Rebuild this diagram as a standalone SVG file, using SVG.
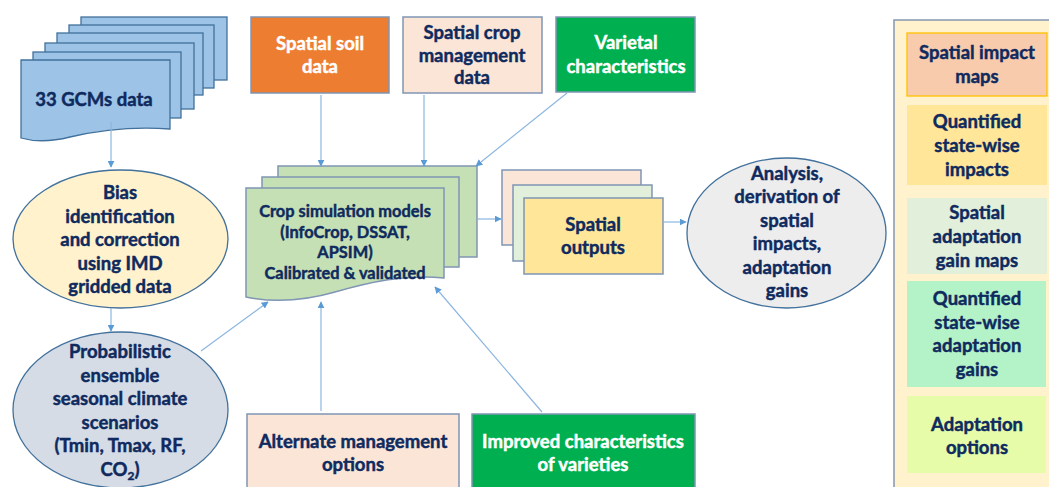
<svg xmlns="http://www.w3.org/2000/svg" width="1049" height="487" viewBox="0 0 1049 487">
  <defs>
    <marker id="arrow" viewBox="0 0 10 10" refX="9" refY="5" markerWidth="7" markerHeight="7" markerUnits="userSpaceOnUse" orient="auto">
      <path d="M0,0 L10,5 L0,10 Z" fill="#5B9BD5"/>
    </marker>
  </defs>
  <style>
    text { font-family: Lato, "Liberation Sans", sans-serif; font-weight: bold; font-size: 18.5px; fill: #0E2A5E; stroke: #0E2A5E; stroke-width: 0.45; text-anchor: middle; }
    .w { fill: #FFFFFF; stroke: #FFFFFF; }
    .sm { font-size: 16.4px; }
    .box { stroke: #7F95B4; stroke-width: 1.5; }
    .sheet { fill: #9DC3E6; stroke: #41719C; stroke-width: 1.3; }
    .ell { stroke: #41719C; stroke-width: 1.3; }
    .con { fill: none; stroke: #8DB6E0; stroke-width: 1.2; marker-end: url(#arrow); }
  </style>

  <rect width="1049" height="487" fill="#FFFFFF"/>

  <!-- stacked climate model sheets -->
  <g id="gcms">
    <rect class="sheet" x="81" y="17" width="146" height="63"/>
    <rect class="sheet" x="69" y="25" width="145" height="63"/>
    <rect class="sheet" x="57" y="33" width="146" height="62"/>
    <rect class="sheet" x="45" y="43" width="149" height="66"/>
    <rect class="sheet" x="33" y="52" width="148" height="66"/>
    <path class="sheet" d="M21,60 H170 V129 C130,126 100,130 70,137 C50,142 35,142 21,138 Z"/>
    <text x="94" y="106">33 GCMs data</text>
  </g>

  <g id="bias">
    <ellipse class="ell" cx="120.5" cy="239" rx="107.5" ry="69" fill="#FFF2CC"/>
    <text x="120" y="199">Bias</text>
    <text x="120" y="222.5">identification</text>
    <text x="120" y="246">and correction</text>
    <text x="120" y="269.5">using IMD</text>
    <text x="120" y="293">gridded data</text>
  </g>

  <g id="scenarios">
    <ellipse class="ell" cx="120.5" cy="410" rx="107.5" ry="78" fill="#D6DCE5"/>
    <text x="120" y="358">Probabilistic</text>
    <text x="120" y="381.6">ensemble</text>
    <text x="120" y="405.2">seasonal climate</text>
    <text x="120" y="428.8">scenarios</text>
    <text x="120" y="452.4">(Tmin, Tmax, RF,</text>
    <text x="120" y="476">CO<tspan font-size="12" dy="4">2</tspan><tspan dy="-4">)</tspan></text>
  </g>

  <g id="soil">
    <rect class="box" x="251" y="17" width="138" height="76" fill="#ED7D31"/>
    <text class="w" x="320" y="50">Spatial soil</text>
    <text class="w" x="320" y="73">data</text>
  </g>

  <g id="crop-management">
    <rect class="box" x="403" y="17" width="139" height="76" fill="#FBE5D6"/>
    <text x="472" y="39">Spatial crop</text>
    <text x="472" y="61.5">management</text>
    <text x="472" y="84">data</text>
  </g>

  <g id="varietal">
    <rect class="box" x="556" y="17" width="139" height="75" fill="#00B050"/>
    <text class="w" x="626" y="49">Varietal</text>
    <text class="w" x="626" y="73">characteristics</text>
  </g>

  <!-- stacked crop model sheets -->
  <g id="crop-models">
    <rect class="box" x="278" y="166" width="199" height="91" fill="#C5E0B4"/>
    <rect class="box" x="262" y="177" width="197" height="90" fill="#C5E0B4"/>
    <path class="box" d="M246,188 H444 V278 C405,274 370,282 335,292 C300,302 270,302 246,297 Z" fill="#C5E0B4"/>
    <text class="sm" x="345" y="217">Crop simulation models</text>
    <text class="sm" x="345" y="237.7">(InfoCrop, DSSAT,</text>
    <text class="sm" x="345" y="258.3">APSIM)</text>
    <text class="sm" x="345" y="279">Calibrated &amp; validated</text>
  </g>

  <g id="spatial-outputs">
    <rect class="box" x="502" y="170" width="139" height="75" fill="#FBE5D6"/>
    <rect class="box" x="513" y="185" width="139" height="76" fill="#E2EFDA"/>
    <rect class="box" x="524" y="198" width="139" height="76" fill="#FFE699"/>
    <text x="593" y="231">Spatial</text>
    <text x="593" y="254">outputs</text>
  </g>

  <g id="analysis">
    <ellipse class="ell" cx="786.5" cy="233" rx="99.5" ry="75" fill="#EDEDED"/>
    <text x="787" y="180">Analysis,</text>
    <text x="787" y="203.4">derivation of</text>
    <text x="787" y="226.8">spatial</text>
    <text x="787" y="250.2">impacts,</text>
    <text x="787" y="273.6">adaptation</text>
    <text x="787" y="297">gains</text>
  </g>

  <g id="alternate-management">
    <rect class="box" x="247" y="414" width="212" height="80" fill="#FBE5D6"/>
    <text x="353" y="448">Alternate management</text>
    <text x="353" y="471">options</text>
  </g>

  <g id="improved-varieties">
    <rect class="box" x="472" y="414" width="223" height="80" fill="#00B050"/>
    <text class="w" x="583" y="448">Improved characteristics</text>
    <text class="w" x="583" y="471">of varieties</text>
  </g>

  <!-- outputs panel -->
  <g id="outputs-panel">
    <rect x="894" y="20" width="170" height="480" fill="#FFF2CC" stroke="#8497B0" stroke-width="1.5"/>
  </g>
  <g id="impact-maps">
    <rect x="907" y="33" width="140" height="63" fill="#F8CBAD" stroke="#FFC000" stroke-width="1.3"/>
    <text x="977" y="59">Spatial impact</text>
    <text x="977" y="83">maps</text>
  </g>
  <g id="state-impacts">
    <rect x="907" y="105" width="140" height="80" fill="#FFE699"/>
    <text x="977" y="128">Quantified</text>
    <text x="977" y="152">state-wise</text>
    <text x="977" y="176">impacts</text>
  </g>
  <g id="gain-maps">
    <rect x="907" y="198" width="140" height="76" fill="#E2EFDA"/>
    <text x="977" y="219">Spatial</text>
    <text x="977" y="243">adaptation</text>
    <text x="977" y="267">gain maps</text>
  </g>
  <g id="state-gains">
    <rect x="907" y="281" width="139" height="106" fill="#B4F3C8"/>
    <text x="977" y="305">Quantified</text>
    <text x="977" y="328.5">state-wise</text>
    <text x="977" y="352">adaptation</text>
    <text x="977" y="376">gains</text>
  </g>
  <g id="adaptation-options">
    <rect x="907" y="396" width="139" height="77" fill="#E6FCA8"/>
    <text x="977" y="431">Adaptation</text>
    <text x="977" y="454">options</text>
  </g>

  <g id="connectors">
    <line class="con" x1="111" y1="122" x2="111" y2="167"/>
    <line class="con" x1="111" y1="308" x2="111" y2="331"/>
    <line class="con" x1="321" y1="95" x2="321" y2="166"/>
    <line class="con" x1="424" y1="95" x2="424" y2="166"/>
    <line class="con" x1="567" y1="93" x2="476" y2="166"/>
    <line class="con" x1="477" y1="219" x2="501" y2="219"/>
    <line class="con" x1="663" y1="222" x2="686" y2="222"/>
    <line class="con" x1="201" y1="351" x2="268" y2="302"/>
    <line class="con" x1="321" y1="411" x2="321" y2="302"/>
    <line class="con" x1="542" y1="412" x2="435" y2="287"/>
  </g>
</svg>
